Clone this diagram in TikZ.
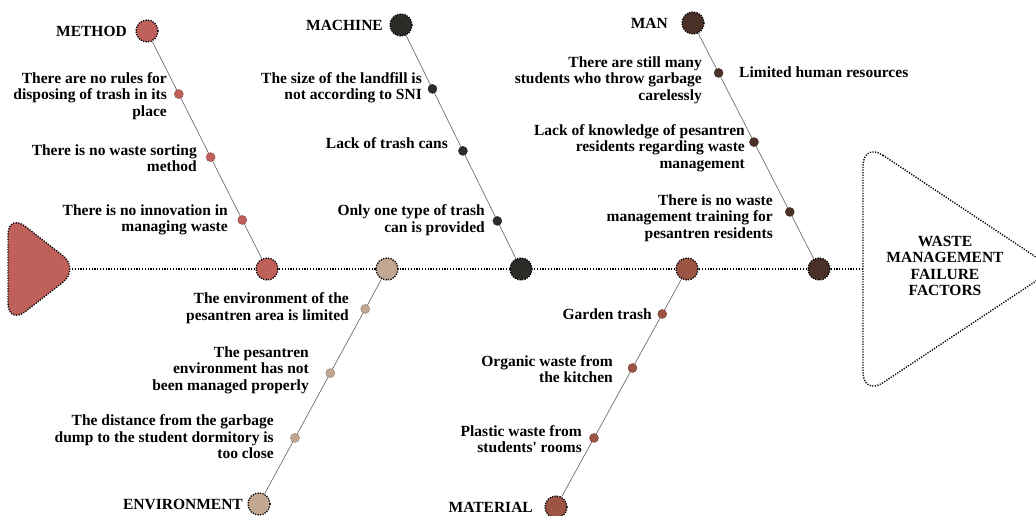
\documentclass[tikz,border=0pt]{standalone}
\usepackage{fontspec}
\setmainfont{Liberation Serif}
\usetikzlibrary{calc,backgrounds}
\definecolor{cmethod}{HTML}{C0605A}
\definecolor{cenv}{HTML}{C2A893}
\definecolor{cmach}{HTML}{2C2C28}
\definecolor{cmat}{HTML}{9C5444}
\definecolor{cman}{HTML}{4A3026}
\definecolor{cline}{HTML}{707070}
\begin{document}
\begin{tikzpicture}[x=1pt,y=-1pt,
  txt/.style={font=\bfseries\fontsize{15.5}{16.4}\selectfont, inner sep=0pt, align=right, anchor=east},
  bigdot/.style={circle, minimum size=22pt, inner sep=0pt, fill=#1, draw=black, line width=1.4pt, dash pattern=on 1.2pt off 1.3pt},
  smalldot/.style={circle, minimum size=9pt, inner sep=0pt, fill=#1, draw=#1!70!black, line width=0.4pt},
  bone/.style={draw=cline, line width=0.7pt},
  spine/.style={draw=black, line width=1.3pt, dash pattern=on 1.2pt off 1.6pt},
  outline/.style={draw=black, line width=1.4pt, dash pattern=on 1.2pt off 1.4pt},
]
\useasboundingbox (0,0) rectangle (1036,516);

% tail and head
\filldraw[outline, fill=cmethod, rounded corners=22pt] (8,213) -- (80,269) -- (8,325) -- cycle;
\coordinate (tailtip) at (72,269);
\draw[outline, rounded corners=24pt] (863,142) -- (1054,269) -- (863,396) -- cycle;
\coordinate (headw) at (863,269);
\node[font=\bfseries\fontsize{15.5}{16.4}\selectfont, align=center, inner sep=0pt] (title) at (945,266) {WASTE\\MANAGEMENT\\FAILURE\\FACTORS};

% joints on the spine
\node[bigdot=cmethod] (mj) at (267,269) {};
\node[bigdot=cenv] (ej) at (387,269) {};
\node[bigdot=cmach] (cj) at (521,269) {};
\node[bigdot=cmat] (tj) at (687,269) {};
\node[bigdot=cman] (nj) at (819,269) {};

% category heads
\node[bigdot=cmethod] (mtop) at (147,31) {};
\node[bigdot=cmach] (ctop) at (401,25) {};
\node[bigdot=cman] (ntop) at (693,23) {};
\node[bigdot=cenv] (ebot) at (259,504) {};
\node[bigdot=cmat] (tbot) at (556,507) {};

\node[txt] (mlab) at (127,31) {METHOD};
\node[txt] (clab) at (383,25) {MACHINE};
\node[txt] (nlab) at (668,23) {MAN};
\node[txt] (elab) at (243,504) {ENVIRONMENT};
\node[txt] (tlab) at (533,507) {MATERIAL};

% cause dots
\node[smalldot=cmethod] (m1) at ($(mtop)!0.265!(mj)$) {};
\node[smalldot=cmethod] (m2) at ($(mtop)!0.53!(mj)$) {};
\node[smalldot=cmethod] (m3) at ($(mtop)!0.794!(mj)$) {};
\node[smalldot=cmach] (c1) at ($(ctop)!0.262!(cj)$) {};
\node[smalldot=cmach] (c2) at ($(ctop)!0.516!(cj)$) {};
\node[smalldot=cmach] (c3) at ($(ctop)!0.803!(cj)$) {};
\node[smalldot=cman] (n1) at ($(ntop)!0.203!(nj)$) {};
\node[smalldot=cman] (n2) at ($(ntop)!0.484!(nj)$) {};
\node[smalldot=cman] (n3) at ($(ntop)!0.768!(nj)$) {};
\node[smalldot=cenv] (e1) at ($(ej)!0.170!(ebot)$) {};
\node[smalldot=cenv] (e2) at ($(ej)!0.443!(ebot)$) {};
\node[smalldot=cenv] (e3) at ($(ej)!0.719!(ebot)$) {};
\node[smalldot=cmat] (t1) at ($(tj)!0.189!(tbot)$) {};
\node[smalldot=cmat] (t2) at ($(tj)!0.416!(tbot)$) {};
\node[smalldot=cmat] (t3) at ($(tj)!0.71!(tbot)$) {};

% cause labels
\node[txt] (m1l) at (167,96) {There are no rules for\\disposing of trash in its\\place};
\node[txt] (m2l) at (197,158) {There is no waste sorting\\method};
\node[txt] (m3l) at (228,220) {There is no innovation in\\managing waste};
\node[txt] (c1l) at (422,88) {The size of the landfill is\\not according to SNI};
\node[txt] (c2l) at (448,143) {Lack of trash cans};
\node[txt] (c3l) at (485,220) {Only one type of trash\\can is provided};
\node[txt] (n1l) at (702,80) {There are still many\\students who throw garbage\\carelessly};
\node[txt] (n2l) at (745,148) {Lack of knowledge of pesantren\\residents regarding waste\\management};
\node[txt] (n3l) at (773,218) {There is no waste\\management training for\\pesantren residents};
\node[txt, anchor=west, align=left] (n4l) at (739,72) {Limited human resources};
\node[txt] (e1l) at (349,308) {The environment of the\\pesantren area is limited};
\node[txt] (e2l) at (309,370) {The pesantren\\environment has not\\been managed properly};
\node[txt] (e3l) at (274,437) {The distance from the garbage\\dump to the student dormitory is\\too close};
\node[txt] (t1l) at (652,314) {Garden trash};
\node[txt] (t2l) at (613,369) {Organic waste from\\the kitchen};
\node[txt] (t3l) at (582,439) {Plastic waste from\\students\textquotesingle{} rooms};

\begin{pgfonlayer}{background}
\draw[spine] (tailtip) -- (headw);
\draw[bone] (mtop) -- (mj);
\draw[bone] (ctop) -- (cj);
\draw[bone] (ntop) -- (nj);
\draw[bone] (ej) -- (ebot);
\draw[bone] (tj) -- (tbot);
\end{pgfonlayer}
\end{tikzpicture}
\end{document}
